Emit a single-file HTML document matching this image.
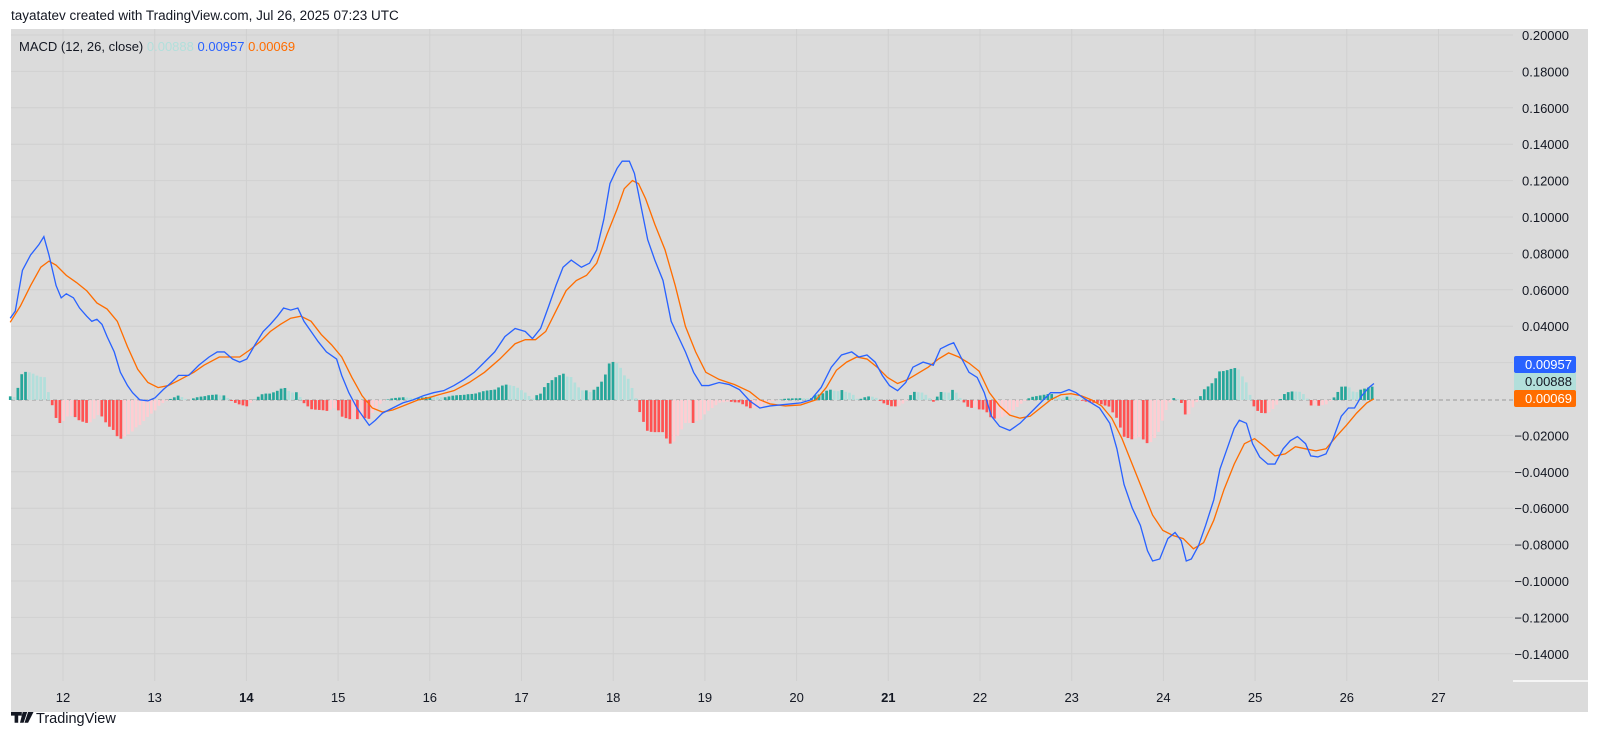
<!DOCTYPE html>
<html><head><meta charset="utf-8"><style>
body{margin:0;width:1600px;height:751px;background:#fff;font-family:"Liberation Sans",sans-serif;overflow:hidden;position:relative}
.t{position:absolute;font-size:13px;color:#131722;white-space:nowrap}
</style></head><body>
<div class="t" style="left:11px;top:8px;font-size:13.5px">tayatatev created with TradingView.com, Jul 26, 2025 07:23 UTC</div>
<svg id="s" width="1600" height="751" style="position:absolute;left:0;top:0">
<rect x="11" y="29" width="1577" height="683" fill="#dbdbdb"/>
<g id="grid"></g>
<g id="bars"></g>
<g transform="scale(1.02)"><polyline id="sig" fill="none" stroke="#ff6d00" stroke-width="1.3"/><polyline id="mac" fill="none" stroke="#2962ff" stroke-width="1.3"/></g>
<line x1="1513" y1="681" x2="1588" y2="681" stroke="#f5f5f5" stroke-width="2"/>
<g id="lab" font-family="Liberation Sans, sans-serif" font-size="13" fill="#131722"></g>
<rect x="1514" y="356" width="62" height="17" rx="2" fill="#2962ff"/><text x="1572" y="369" text-anchor="end" font-size="13" fill="#fff">0.00957</text>
<rect x="1514" y="373" width="62" height="17" fill="#b2dfdb"/><text x="1572" y="386" text-anchor="end" font-size="13" fill="#131722">0.00888</text>
<rect x="1514" y="390" width="62" height="17" rx="2" fill="#ff6d00"/><text x="1572" y="403" text-anchor="end" font-size="13" fill="#fff">0.00069</text>
<text x="19" y="51" font-size="13" fill="#131722">MACD (12, 26, close) <tspan fill="#b2dfdb">0.00888</tspan> <tspan fill="#2962ff">0.00957</tspan> <tspan fill="#ff6d00">0.00069</tspan></text>
<g transform="translate(11,712)"><path d="M0,0h12v4h-4v8h-4v-8h-4z M13,0h5l-4,12h-4z M19,0h6l-6,12h-4z" fill="#131722" transform="translate(0,0) scale(0.9)"/></g>
<text x="36" y="723" font-size="14.5" fill="#131722">TradingView</text>
</svg>
<script>
const NS="http://www.w3.org/2000/svg";
function el(p,t,a,txt){const e=document.createElementNS(NS,t);for(const k in a)e.setAttribute(k,a[k]);if(txt)e.textContent=txt;document.getElementById(p).appendChild(e);}
const yv=v=>35+(0.2-v)/0.02*36.4;
for(let i=0;i<=17;i++){const v=0.2-i*0.02,y=yv(v);
 if(i!=10)el("grid","line",{x1:11,x2:1513,y1:y,y2:y,stroke:"#d0d0d0"});
 el("lab","text",{x:1569,y:y+5,"text-anchor":"end"},(v<-1e-9?"\u22120":"0")+"."+Math.round(Math.abs(v)*100000).toString().padStart(5,"0"));}
el("grid","line",{x1:11,x2:1513,y1:400,y2:400,stroke:"#9a9a9a","stroke-dasharray":"4,3"});
for(let d=12;d<=27;d++){const x=63+(d-12)*91.7;el("grid","line",{x1:x,x2:x,y1:29,y2:681,stroke:"#d0d0d0"});
 el("lab","text",{x:x,y:702,"text-anchor":"middle","font-weight":(d==14||d==21)?"bold":"normal"},d);}
const M=[[10,312],[15,305],[22,265],[30,250],[38,240],[43,232],[48,250],[55,280],[60,292],[65,288],[72,292],[78,302],[85,310],[90,315],[95,313],[100,318],[105,330],[112,345],[118,365],[125,378],[130,385],[137,392],[145,393],[152,390],[160,382],[168,375],[175,368],[185,368],[195,358],[205,350],[213,345],[220,345],[228,352],[235,355],[242,352],[250,338],[258,325],[265,318],[272,310],[278,302],[285,304],[292,302],[298,315],[305,325],[312,335],[320,345],[330,352],[335,368],[342,385],[350,400],[357,410],[362,417],[368,412],[375,405],[385,400],[395,395],[405,392],[415,388],[425,385],[435,383],[445,378],[455,372],[465,365],[475,355],[485,345],[495,330],[505,322],[515,325],[522,332],[530,322],[538,300],[545,280],[552,262],[560,255],[570,262],[578,258],[585,245],[592,215],[598,180],[605,165],[610,158],[617,158],[622,170],[628,200],[635,235],[642,255],[650,275],[658,315],[665,330],[672,345],[680,365],[688,378],[695,378],[705,375],[715,377],[725,382],[735,393],[745,400],[755,398],[765,397],[775,396],[785,395],[795,392],[805,380],[815,360],[825,348],[835,345],[842,350],[850,348],[858,355],[865,368],[872,378],[880,383],[888,375],[895,360],[905,355],[915,358],[922,342],[930,338],[935,336],[942,350],[950,365],[958,370],[965,385],[972,408],[980,418],[990,422],[1000,415],[1010,405],[1020,395],[1030,385],[1040,385],[1048,382],[1055,385],[1062,390],[1070,395],[1078,400],[1088,415],[1095,440],[1102,475],[1110,498],[1118,515],[1125,540],[1130,550],[1137,548],[1145,528],[1152,522],[1158,530],[1163,550],[1168,548],[1175,535],[1182,515],[1190,490],[1196,460],[1203,440],[1210,420],[1215,412],[1222,415],[1228,435],[1235,448],[1243,455],[1250,455],[1258,440],[1265,432],[1272,428],[1280,435],[1285,447],[1292,448],[1300,445],[1307,430],[1315,408],[1322,400],[1328,400],[1335,388],[1342,380],[1347,376]];
const S=[[10,316],[20,300],[30,280],[40,262],[48,256],[55,260],[65,270],[75,277],[85,285],[95,297],[105,303],[115,315],[125,340],[135,362],[145,375],[155,380],[165,378],[175,373],[190,365],[200,358],[215,350],[225,350],[235,350],[245,343],[255,335],[265,325],[275,318],[285,312],[295,310],[305,315],[315,328],[325,338],[335,350],[345,370],[355,388],[365,400],[375,404],[385,402],[395,398],[410,392],[420,390],[430,387],[445,383],[460,375],[475,365],[490,352],[505,337],[515,333],[525,333],[535,325],[545,305],[555,285],[565,275],[575,270],[585,258],[595,230],[605,205],[612,185],[620,177],[626,180],[633,195],[642,220],[652,245],[662,280],[672,320],[682,345],[692,365],[705,372],[720,377],[735,384],[745,392],[755,396],[770,398],[785,397],[800,392],[810,380],[820,363],[830,355],[840,350],[850,352],[860,360],[870,370],[880,376],[890,372],[900,366],[910,360],[920,352],[930,346],[940,350],[950,356],[960,364],[970,385],[980,398],[990,407],[1000,410],[1010,408],[1020,400],[1030,392],[1040,387],[1050,386],[1060,388],[1070,392],[1080,398],[1090,410],[1100,430],[1110,455],[1120,480],[1130,505],[1140,520],[1150,525],[1160,528],[1170,538],[1180,532],[1190,510],[1200,480],[1210,455],[1220,435],[1230,430],[1240,438],[1250,447],[1260,445],[1270,438],[1280,440],[1290,442],[1300,440],[1310,428],[1320,417],[1330,405],[1340,395],[1347,391]];
document.getElementById("mac").setAttribute("points",M.map(p=>p.join(",")).join(" "));
document.getElementById("sig").setAttribute("points",S.map(p=>p.join(",")).join(" "));
function at(A,x){for(let i=1;i<A.length;i++)if(A[i][0]>=x){const a=A[i-1],b=A[i];return a[1]+(b[1]-a[1])*(x-a[0])/(b[0]-a[0]);}return A[A.length-1][1];}
let prev=0;
for(let x=10;x<=1347;x+=3.74){const h=(at(S,x)-at(M,x))*0.9*1.02;let c;
 if(h>=0)c=h>=prev?"#26a69a":"#b2dfdb";else c=h<=prev?"#ff5252":"#ffcdd2";prev=h;
 const X=x*1.02;el("bars","rect",{x:X-1.3,width:2.7,y:h>=0?400-h:400,height:Math.abs(h),fill:c});}
</script>
</body></html>
